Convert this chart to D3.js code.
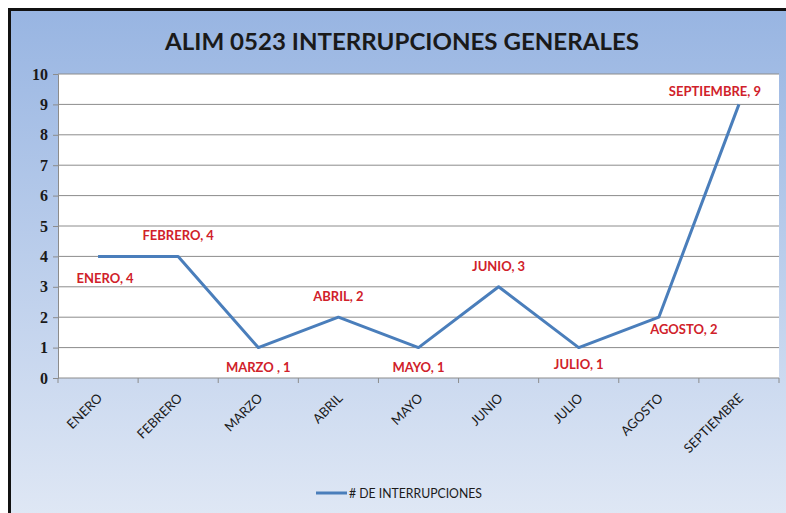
<!DOCTYPE html>
<html>
<head>
<meta charset="utf-8">
<script src="https://cdn.jsdelivr.net/npm/d3@7"></script>
<style>
  body { margin: 0; background: #fff; }
  svg { display: block; }
  .ytk text { font-family: 'Liberation Serif', 'DejaVu Serif', serif; font-size: 16px; font-weight: bold; }
</style>
</head>
<body>
<div id="chart"></div>
<script>
"use strict";

// data ************************************************************
var months = ["ENERO", "FEBRERO", "MARZO", "ABRIL", "MAYO", "JUNIO", "JULIO", "AGOSTO", "SEPTIEMBRE"];
var interrupciones = [4, 4, 1, 2, 1, 3, 1, 2, 9];
var labelTexts = ["ENERO, 4", "FEBRERO, 4", "MARZO , 1", "ABRIL, 2", "MAYO, 1", "JUNIO, 3", "JULIO, 1", "AGOSTO, 2", "SEPTIEMBRE, 9"];
var yTicks = [0, 1, 2, 3, 4, 5, 6, 7, 8, 9, 10];
var seriesName = "# DE INTERRUPCIONES";
var title = "ALIM 0523 INTERRUPCIONES GENERALES";

// where each data label sits relative to its point
var labelPlace = [
  {dx: 7, dy: 27}, {dx: 0, dy: -16}, {dx: 0, dy: 24}, {dx: 0, dy: -16}, {dx: 0, dy: 24},
  {dx: 0, dy: -16}, {dx: 0, dy: 21}, {dx: 25, dy: 17}, {dx: -24, dy: -8}
];

// variables *************************************************************
var width = 786, height = 513;
var plot = {left: 58, right: 779, top: 74, bottom: 378};
var lineColor = "#4a7ebb";
var labelColor = "#d0212a";
var font = "Lato, 'Open Sans', sans-serif";

var svg = d3.select("#chart").append("svg")
  .attr("width", width)
  .attr("height", height);

var defs = svg.append("defs");
var grad = defs.append("linearGradient")
  .attr("id", "bg").attr("x1", 0).attr("y1", 0).attr("x2", 0).attr("y2", 1);
grad.append("stop").attr("offset", "0%").attr("stop-color", "#98b5e2");
grad.append("stop").attr("offset", "100%").attr("stop-color", "#e0e8f5");

// frame
svg.append("rect").attr("x", 8).attr("y", 8).attr("width", width).attr("height", height)
  .attr("fill", "#111");
svg.append("rect").attr("x", 11).attr("y", 11).attr("width", width).attr("height", height)
  .attr("fill", "url(#bg)");

// scales
var x = d3.scaleBand().domain(months).range([plot.left, plot.right]).padding(0);
var y = d3.scaleLinear().domain([0, 10]).range([plot.bottom, plot.top]);

// plot area
svg.append("rect")
  .attr("x", plot.left).attr("y", plot.top)
  .attr("width", plot.right - plot.left).attr("height", plot.bottom - plot.top)
  .attr("fill", "#fff");

// y axis + grid
var yAxis = svg.append("g")
  .attr("class", "ytk")
  .attr("transform", "translate(" + plot.left + ",0)")
  .call(d3.axisLeft(y).tickValues(yTicks).tickSize(5).tickPadding(5).tickFormat(d3.format("d")));
yAxis.select(".domain").attr("stroke", "#8c8c8c");
yAxis.selectAll(".tick line").attr("stroke", "#8c8c8c");
yAxis.selectAll(".tick text").attr("fill", "#1a1a1a");

svg.append("g").selectAll("line")
  .data(yTicks.filter(function(d) { return d > 0; }))
  .enter().append("line")
  .attr("x1", plot.left).attr("x2", plot.right)
  .attr("y1", function(d) { return y(d); })
  .attr("y2", function(d) { return y(d); })
  .attr("stroke", "#8c8c8c").attr("stroke-width", 1);

// x axis
var xAxis = svg.append("g")
  .attr("transform", "translate(0," + plot.bottom + ")");
xAxis.append("line")
  .attr("x1", plot.left).attr("x2", plot.right)
  .attr("stroke", "#8c8c8c");
xAxis.selectAll(".tk")
  .data(months.concat(["end"]))
  .enter().append("line")
  .attr("class", "tk")
  .attr("x1", function(d, i) { return plot.left + i * x.bandwidth(); })
  .attr("x2", function(d, i) { return plot.left + i * x.bandwidth(); })
  .attr("y1", 0).attr("y2", 5)
  .attr("stroke", "#8c8c8c");
xAxis.selectAll(".lbl")
  .data(months)
  .enter().append("text")
  .attr("class", "lbl")
  .attr("text-anchor", "end")
  .attr("transform", function(d) {
    return "translate(" + (x(d) + x.bandwidth() / 2 + 5) + ",21) rotate(-45)";
  })
  .attr("font-family", font)
  .attr("font-size", 13)
  .attr("fill", "#1a1a1a")
  .text(function(d) { return d; });

// line
var cx = function(i) { return x(months[i]) + x.bandwidth() / 2; };
var line = d3.line()
  .x(function(d, i) { return cx(i); })
  .y(function(d) { return y(d); });

svg.append("path")
  .datum(interrupciones)
  .attr("d", line)
  .attr("fill", "none")
  .attr("stroke", lineColor)
  .attr("stroke-width", 3)
  .attr("stroke-linejoin", "round");

// data labels
svg.append("g").selectAll("text")
  .data(interrupciones)
  .enter().append("text")
  .attr("x", function(d, i) { return cx(i) + labelPlace[i].dx; })
  .attr("y", function(d, i) { return y(d) + labelPlace[i].dy; })
  .attr("text-anchor", "middle")
  .attr("font-family", font)
  .attr("font-weight", "bold")
  .attr("font-size", 13)
  .attr("fill", labelColor)
  .text(function(d, i) { return labelTexts[i]; });

// title
svg.append("text")
  .attr("x", 402).attr("y", 50)
  .attr("text-anchor", "middle")
  .attr("font-family", font)
  .attr("font-weight", "bold")
  .attr("font-size", 23)
  .attr("fill", "#1a1a1a")
  .attr("textLength", 474)
  .attr("lengthAdjust", "spacingAndGlyphs")
  .text(title);

// legend
var legend = svg.append("g").attr("transform", "translate(316,493)");
legend.append("line").attr("x1", 0).attr("x2", 31).attr("stroke", lineColor).attr("stroke-width", 3);
legend.append("text")
  .attr("x", 33).attr("y", 4.5)
  .attr("font-family", font)
  .attr("font-size", 13)
  .attr("fill", "#1a1a1a")
  .attr("textLength", 133)
  .attr("lengthAdjust", "spacingAndGlyphs")
  .text(seriesName);
</script>
</body>
</html>
